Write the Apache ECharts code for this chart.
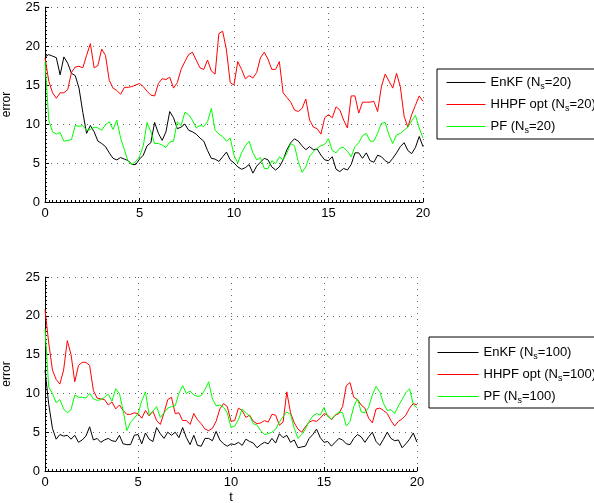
<!DOCTYPE html>
<html><head><meta charset="utf-8">
<script src="https://cdn.jsdelivr.net/npm/echarts@6/dist/echarts.min.js"></script>
<style>html,body{margin:0;padding:0;background:#fff}#c{width:594px;height:503px}</style>
</head><body><div id="c"></div><script>
// sampling step of the time axis (t from 0 to 20)
const tStep = 0.2;
const xTicks = [0, 5, 10, 15, 20];
const yTicks = [0, 5, 10, 15, 20, 25];

// Top panel (N_s = 20)
const enkf20 = [18.6,18.9,18.7,18.5,16.3,18.6,17.8,16.5,16.2,14.6,
11.5,8.8,9.8,9.0,7.8,7.5,7.1,6.3,5.6,5.4,
5.7,5.5,5.3,4.8,4.8,5.5,6.0,7.2,7.6,10.2,
8.8,7.9,9.0,11.6,10.8,9.4,9.6,10.0,9.2,9.0,
8.7,8.2,7.8,6.6,5.6,5.5,5.2,5.8,6.4,5.4,
5.0,4.5,4.2,4.4,4.8,3.7,4.6,5.1,5.6,5.4,
4.5,4.1,4.5,5.4,6.7,7.6,8.1,7.8,7.2,6.7,
7.1,6.7,6.8,6.0,5.4,5.3,5.8,4.2,3.9,4.3,
4.1,4.8,6.3,6.3,5.6,6.3,5.3,5.1,6.0,5.8,
5.3,5.0,5.6,6.3,7.1,7.6,6.6,6.2,7.0,8.4,
7.1];
const hhpf20 = [18.5,15.5,14.0,13.3,14.0,14.0,14.4,16.6,17.3,17.4,
17.2,18.8,20.3,17.2,17.5,19.6,18.8,15.6,14.6,14.3,
13.8,14.7,14.7,14.8,15.0,15.2,14.8,14.2,13.7,13.6,
15.2,15.8,15.7,16.0,14.6,15.3,17.0,18.0,18.9,19.2,
18.2,17.2,17.0,18.2,16.8,16.4,21.6,21.9,19.5,15.3,
15.0,18.0,17.0,15.8,16.2,15.9,16.6,18.5,19.2,18.3,
17.0,17.0,18.0,14.0,13.4,12.8,11.8,11.6,12.0,13.2,
10.5,9.6,9.4,8.7,10.8,11.2,10.8,12.2,11.8,10.5,
9.5,13.6,13.6,11.4,12.8,12.8,12.8,12.9,11.6,14.8,
16.4,15.5,14.6,16.5,14.8,11.0,9.6,11.2,12.4,13.6,
12.9];
const pf20 = [18.0,10.5,9.0,8.7,8.9,7.8,7.9,8.0,9.8,9.7,
9.8,9.2,9.3,9.6,9.5,9.2,9.9,10.3,9.3,10.5,
8.2,6.7,5.2,4.8,5.2,5.8,7.2,10.2,9.0,7.5,
7.5,7.3,7.0,7.7,7.8,10.3,9.8,11.5,11.2,10.5,
9.5,9.8,9.7,10.3,12.0,9.2,8.7,8.4,7.8,8.2,
6.0,5.0,6.3,7.2,7.8,6.3,5.4,5.7,4.3,4.3,
5.3,4.9,5.8,5.4,6.3,7.5,7.2,5.2,3.8,4.5,
5.9,6.4,6.9,7.2,7.4,8.1,6.6,6.3,6.9,7.0,
6.5,5.8,7.1,7.6,8.5,8.8,7.8,7.8,8.8,10.1,
10.2,8.6,7.5,8.6,8.8,9.2,9.6,10.4,11.1,9.5,
8.2];

// Bottom panel (N_s = 100)
const enkf100 = [13.0,8.6,5.5,4.1,4.7,4.5,4.6,4.1,4.6,3.7,
4.0,4.5,5.7,4.0,4.2,3.7,4.0,4.2,3.9,3.8,
4.6,3.5,3.4,3.4,4.6,4.7,3.5,4.9,4.1,3.8,
5.6,4.8,4.2,5.0,4.6,5.0,4.3,5.6,4.3,3.4,
4.6,3.3,3.2,4.2,4.2,3.9,5.1,4.0,3.5,3.2,
3.5,3.4,3.7,3.3,4.1,3.8,3.6,3.0,3.4,3.7,
3.5,4.2,3.6,4.8,4.3,4.6,3.7,4.0,3.0,3.1,
3.2,4.2,4.7,5.4,4.3,3.7,3.8,3.2,3.7,4.2,
4.0,3.5,3.4,4.2,4.7,4.4,3.7,4.4,5.0,3.8,
3.3,4.1,5.0,4.2,3.9,4.0,3.0,3.5,4.1,4.9,
3.7];
const hhpf100 = [20.8,16.5,13.0,11.8,11.2,13.0,16.8,15.0,11.5,13.6,
14.0,14.0,13.6,10.4,9.4,9.3,9.2,8.5,8.9,8.0,
8.5,7.8,7.3,7.3,7.5,7.4,6.8,7.8,7.1,7.7,
6.5,6.0,7.5,9.2,9.5,7.4,7.5,6.5,6.5,6.0,
7.4,6.6,6.1,5.4,5.2,5.5,6.4,8.0,8.7,8.3,
6.4,6.5,8.1,7.8,6.9,7.2,6.4,6.1,6.2,6.5,
6.3,7.3,7.2,5.9,6.3,10.2,7.5,6.2,5.4,5.0,
5.7,6.3,6.5,6.4,6.8,7.4,7.2,6.6,7.2,7.4,
8.3,11.0,11.4,9.5,9.2,8.5,8.1,6.8,6.2,8.0,
8.1,7.8,7.4,6.5,5.8,6.4,6.7,7.2,8.1,8.7,
8.5];
const pf100 = [18.3,10.8,10.0,8.8,9.2,8.0,7.5,7.9,9.8,9.5,
9.5,9.4,10.0,9.3,9.1,9.2,9.5,9.9,9.0,10.6,
10.0,7.8,5.2,6.3,6.8,7.4,9.0,10.2,7.2,7.7,
8.3,6.9,7.5,8.1,8.3,8.4,10.0,11.0,10.0,10.3,
9.8,9.6,9.7,10.5,11.5,9.3,8.4,8.5,8.2,7.5,
5.6,5.8,6.6,8.0,7.5,7.1,6.1,5.9,5.2,4.7,
4.8,5.0,5.4,6.3,7.0,7.6,7.3,5.5,4.2,4.7,
5.4,6.4,7.1,7.4,7.2,8.2,7.0,6.7,7.2,7.6,
7.5,5.8,6.4,8.3,9.3,7.6,7.5,8.2,9.8,10.9,
10.2,8.7,7.8,7.9,7.4,8.4,9.2,10.1,10.6,8.6,
8.1];

const methods = ['EnKF', 'HHPF opt', 'PF'];
const colors = ['#000000', '#ff0000', '#00ff00'];
const sizes = [20, 100];
const panels = [[enkf20, hhpf20, pf20], [enkf100, hhpf100, pf100]];

const FONT = '"Liberation Sans", Arial, sans-serif';
const NARROW = '"Liberation Sans Narrow", "Liberation Sans", sans-serif';

function seriesName(m, n) { return m + ' (Ns=' + n + ')'; }
function pairs(arr) { return arr.map((v, i) => [Math.round(i * tStep * 10) / 10, v]); }

const grids = [
  {left: 45, top: 7, width: 378, height: 195, outerBoundsMode: 'none', containLabel: false},
  {left: 45, top: 277, width: 372, height: 194, outerBoundsMode: 'none', containLabel: false}
];

function mkX(gi, name) {
  return {
    type: 'value', gridIndex: gi, min: xTicks[0], max: xTicks[xTicks.length - 1], interval: 5,
    name: name, nameLocation: 'middle', nameGap: 20,
    nameTextStyle: {color: '#000', fontFamily: FONT, fontSize: 13},
    axisLine: {show: true, onZero: false, lineStyle: {color: '#000', width: 1}},
    axisTick: {show: true, inside: true, length: 4, lineStyle: {color: '#000'}},
    minorTick: {show: true, splitNumber: 25, length: 2, lineStyle: {color: '#000'}},
    axisLabel: {color: '#000', fontFamily: FONT, fontSize: 13, margin: 5},
    splitLine: {show: true, lineStyle: {color: '#666', type: [1, 5], width: 1}}
  };
}
function mkY(gi) {
  return {
    type: 'value', gridIndex: gi, min: yTicks[0], max: yTicks[yTicks.length - 1], interval: 5,
    name: 'error', nameLocation: 'middle', nameGap: 32,
    nameTextStyle: {color: '#000', fontFamily: NARROW, fontSize: 12},
    axisLine: {show: true, onZero: false, lineStyle: {color: '#000', width: 1}},
    axisTick: {show: true, inside: true, length: 4, lineStyle: {color: '#000'}},
    minorTick: {show: true, splitNumber: 10, length: 2, lineStyle: {color: '#000'}},
    axisLabel: {color: '#000', fontFamily: FONT, fontSize: 13, margin: 5},
    splitLine: {show: true, lineStyle: {color: '#666', type: [1, 5], width: 1}}
  };
}

const series = [];
panels.forEach((p, gi) => {
  p.forEach((arr, k) => {
    series.push({
      type: 'line', name: seriesName(methods[k], sizes[gi]),
      xAxisIndex: gi, yAxisIndex: gi, data: pairs(arr),
      showSymbol: false, symbol: 'none', color: colors[k],
      lineStyle: {width: 1, color: colors[k]}, animation: false, z: 2 + k
    });
  });
});

const rich = {
  n: {fontFamily: NARROW, fontSize: 13, color: '#000', lineHeight: 17},
  s: {fontFamily: FONT, fontSize: 9, color: '#000', lineHeight: 9, padding: [8, 0, 0, 0]}
};
function fmt(name) {
  const m = name.match(/^(.*\(N)s(=\d+\))$/);
  return '{n|' + m[1] + '}{s|s}{n|' + m[2] + '}';
}

const legendPos = [
  {left: 437, top: 69, padding: [5, 12, 4, 9], itemWidth: 39},
  {left: 429, top: 337, padding: [7, 12, 3, 8], itemWidth: 41}
];
const legends = sizes.map((n, gi) => ({
  orient: 'vertical', left: legendPos[gi].left, top: legendPos[gi].top,
  padding: legendPos[gi].padding, itemGap: 5,
  itemWidth: legendPos[gi].itemWidth, itemHeight: 17,
  borderColor: '#000', borderWidth: 1, backgroundColor: '#fff',
  selectedMode: false,
  itemStyle: {opacity: 0, borderWidth: 0},
  lineStyle: {width: 1},
  data: methods.map(m => seriesName(m, n)),
  formatter: fmt,
  textStyle: {fontFamily: NARROW, fontSize: 13, color: '#000', rich: rich}
}));

const chart = echarts.init(document.getElementById('c'), null, {renderer: 'canvas'});
chart.setOption({
  backgroundColor: '#fff',
  animation: false,
  grid: grids,
  xAxis: [mkX(0, ''), mkX(1, 't')],
  yAxis: [mkY(0), mkY(1)],
  legend: legends,
  series: series
});
</script></body></html>
